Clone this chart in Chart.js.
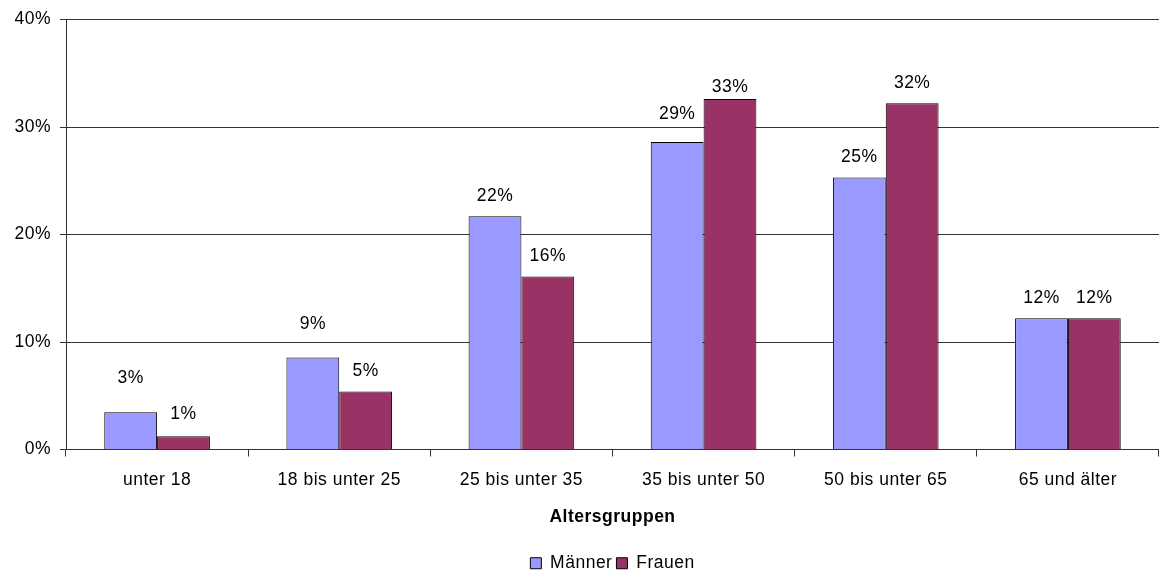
<!DOCTYPE html>
<html>
<head>
<meta charset="utf-8">
<script src="https://cdn.jsdelivr.net/npm/chart.js@4/dist/chart.umd.min.js"></script>
<style>
  html, body { margin: 0; padding: 0; background: #fff; }
  canvas { display: block; }
</style>
</head>
<body>
<canvas id="chart" width="1159" height="574"></canvas>
<script>
const categories = ['unter 18', '18 bis unter 25', '25 bis unter 35', '35 bis unter 50', '50 bis unter 65', '65 und älter'];
const maenner = [3.46, 8.55, 21.7, 28.6, 25.3, 12.2];
const frauen = [1.24, 5.4, 16.1, 32.6, 32.2, 12.2];
const yTicks = [0, 10, 20, 30, 40];

const FONT = '"Liberation Sans", Arial, sans-serif';
const SIZE = 17.5;

// Excel placed some labels higher than the default 20px
const labelLift = { '0-0': 34, '0-1': 33, '1-0': 22, '0-3': 28, '1-3': 12 };

// the original text is a bit wider than plain Arial
const wideText = {
  id: 'wideText',
  beforeLayout(chart) { chart.ctx.letterSpacing = '0.5px'; },
  beforeDraw(chart) { chart.ctx.letterSpacing = '0.5px'; },
};

const valueLabels = {
  id: 'valueLabels',
  afterDatasetsDraw(chart) {
    const ctx = chart.ctx;
    ctx.save();
    ctx.font = SIZE + 'px ' + FONT;
    ctx.fillStyle = '#000';
    ctx.textAlign = 'center';
    ctx.textBaseline = 'middle';
    chart.data.datasets.forEach((ds, di) => {
      chart.getDatasetMeta(di).data.forEach((bar, i) => {
        const lift = labelLift[di + '-' + i] || 20;
        ctx.fillText(Math.round(ds.data[i]) + '%', bar.x, bar.y - lift);
      });
    });
    ctx.restore();
  }
};

new Chart(document.getElementById('chart'), {
  type: 'bar',
  data: {
    labels: categories,
    datasets: [
      { label: 'Männer', data: maenner, backgroundColor: '#9999FF', borderColor: '#000', borderWidth: 1 },
      { label: 'Frauen', data: frauen, backgroundColor: '#993366', borderColor: '#000', borderWidth: 1 },
    ],
  },
  options: {
    responsive: false,
    animation: false,
    layout: { padding: { top: 19, right: 0, left: 0, bottom: -8 } },
    datasets: { bar: { categoryPercentage: 0.58, barPercentage: 1 } },
    plugins: {
      legend: {
        position: 'bottom',
        fullSize: false,
        labels: {
          font: { family: FONT, size: SIZE },
          color: '#000',
          boxWidth: 11,
          boxHeight: 11,
          padding: 4,
          useBorderRadius: false,
        },
      },
      tooltip: { enabled: false },
    },
    scales: {
      x: {
        afterFit(scale) { scale.height = 101; },
        border: { display: true, color: '#333', width: 1 },
        grid: { display: true, drawOnChartArea: false, drawTicks: true, tickLength: 7, color: '#333' },
        ticks: { font: { family: FONT, size: SIZE }, color: '#000', padding: 13, maxRotation: 0 },
        title: {
          display: true,
          text: 'Altersgruppen',
          font: { family: FONT, size: SIZE, weight: 'bold' },
          color: '#000',
          padding: { top: 10, bottom: 23 },
        },
      },
      y: {
        min: 0,
        max: 40,
        afterFit(scale) { scale.width = 66; },
        afterBuildTicks(scale) { scale.ticks = yTicks.map(v => ({ value: v })); },
        border: { display: true, color: '#333', width: 1 },
        grid: { color: '#333', tickLength: 6 },
        ticks: {
          font: { family: FONT, size: SIZE },
          color: '#000',
          padding: 9,
          callback: v => v + '%',
        },
      },
    },
  },
  plugins: [wideText, valueLabels],
});
</script>
</body>
</html>
